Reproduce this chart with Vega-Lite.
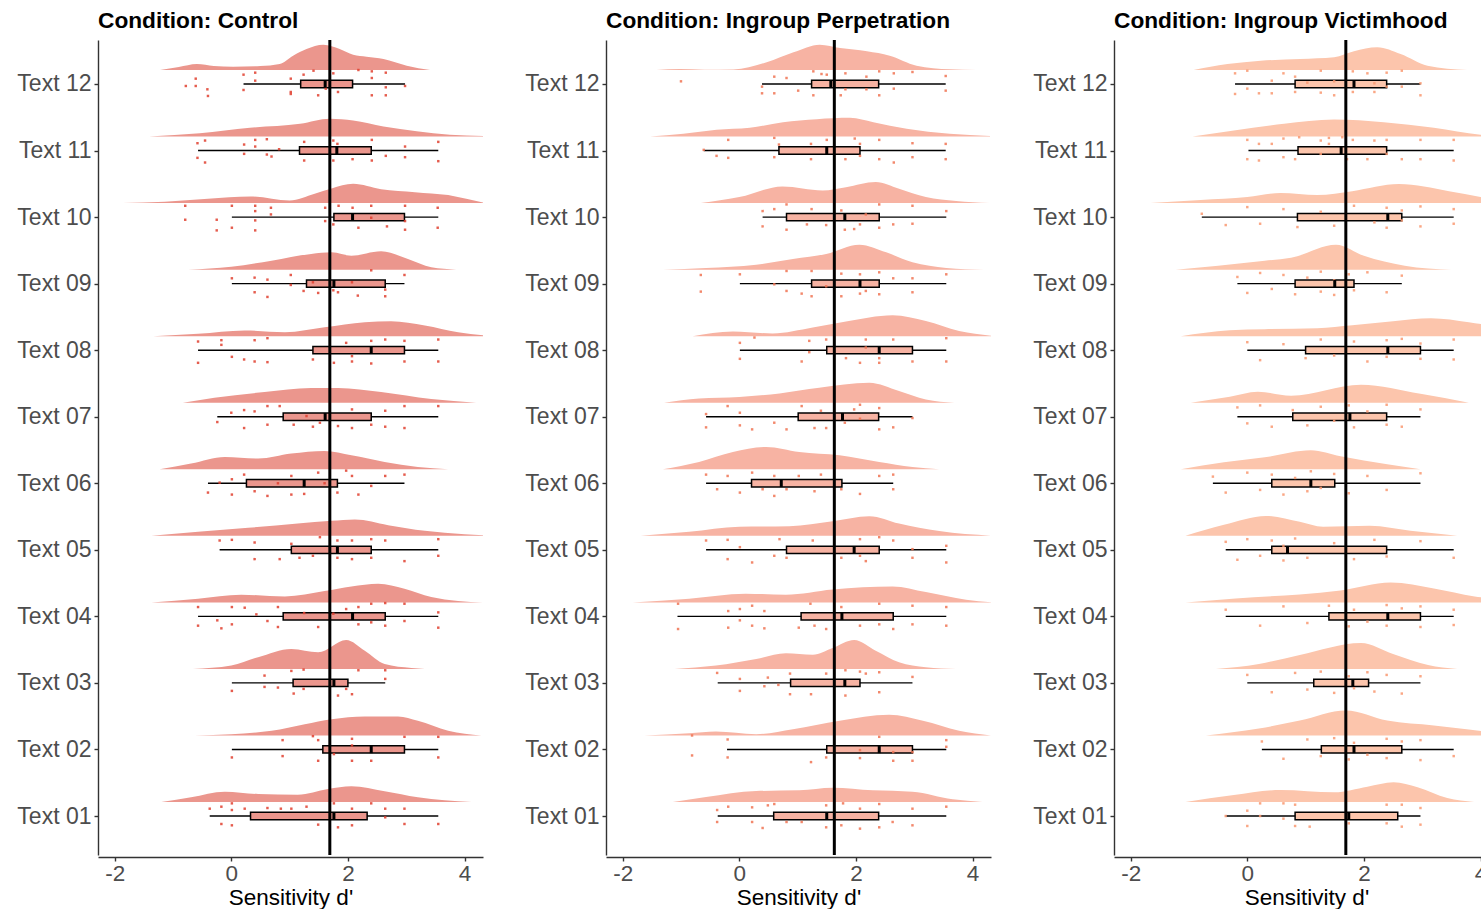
{
"$schema":"https://vega.github.io/schema/vega-lite/v6.json",
"padding":{"left":16,"top":10,"right":0,"bottom":0},
"data":{"values":[
{"c":"C","m":1.69},{"c":"P","m":1.63},{"c":"V","m":1.69},
{"c":"C","r":12,"lo":0.21,"q1":1.19,"md":1.61,"q3":2.08,"hi":2.98},
{"c":"C","r":11,"lo":-0.57,"q1":1.17,"md":1.81,"q3":2.40,"hi":3.55},
{"c":"C","r":10,"lo":0.01,"q1":1.76,"md":2.08,"q3":2.97,"hi":3.55},
{"c":"C","r":9,"lo":0.01,"q1":1.29,"md":1.76,"q3":2.64,"hi":2.97},
{"c":"C","r":8,"lo":-0.57,"q1":1.40,"md":2.40,"q3":2.97,"hi":3.55},
{"c":"C","r":7,"lo":-0.24,"q1":0.89,"md":1.61,"q3":2.40,"hi":3.55},
{"c":"C","r":6,"lo":-0.40,"q1":0.26,"md":1.25,"q3":1.82,"hi":2.97},
{"c":"C","r":5,"lo":-0.20,"q1":1.03,"md":1.82,"q3":2.40,"hi":3.55},
{"c":"C","r":4,"lo":-0.57,"q1":0.89,"md":2.08,"q3":2.64,"hi":3.55},
{"c":"C","r":3,"lo":0.01,"q1":1.06,"md":1.76,"q3":2.00,"hi":2.64},
{"c":"C","r":2,"lo":0.01,"q1":1.57,"md":2.40,"q3":2.97,"hi":3.55},
{"c":"C","r":1,"lo":-0.37,"q1":0.33,"md":1.76,"q3":2.33,"hi":3.55},
{"c":"P","r":12,"lo":0.39,"q1":1.24,"md":1.57,"q3":2.39,"hi":3.54},
{"c":"P","r":11,"lo":-0.61,"q1":0.68,"md":1.50,"q3":2.07,"hi":3.54},
{"c":"P","r":10,"lo":0.40,"q1":0.81,"md":1.81,"q3":2.40,"hi":3.55},
{"c":"P","r":9,"lo":0.01,"q1":1.24,"md":2.07,"q3":2.40,"hi":3.55},
{"c":"P","r":8,"lo":0.01,"q1":1.50,"md":2.40,"q3":2.97,"hi":3.55},
{"c":"P","r":7,"lo":-0.57,"q1":1.01,"md":1.77,"q3":2.39,"hi":2.97},
{"c":"P","r":6,"lo":-0.57,"q1":0.21,"md":0.72,"q3":1.76,"hi":2.64},
{"c":"P","r":5,"lo":-0.57,"q1":0.81,"md":1.97,"q3":2.40,"hi":3.55},
{"c":"P","r":4,"lo":-1.06,"q1":1.06,"md":1.76,"q3":2.64,"hi":3.55},
{"c":"P","r":3,"lo":-0.37,"q1":0.88,"md":1.81,"q3":2.07,"hi":2.97},
{"c":"P","r":2,"lo":-0.21,"q1":1.50,"md":2.40,"q3":2.97,"hi":3.55},
{"c":"P","r":1,"lo":-0.37,"q1":0.59,"md":1.50,"q3":2.39,"hi":3.55},
{"c":"V","r":12,"lo":-0.21,"q1":0.82,"md":1.83,"q3":2.39,"hi":2.97},
{"c":"V","r":11,"lo":0.02,"q1":0.87,"md":1.61,"q3":2.39,"hi":3.54},
{"c":"V","r":10,"lo":-0.78,"q1":0.86,"md":2.41,"q3":2.65,"hi":3.54},
{"c":"V","r":9,"lo":-0.17,"q1":0.82,"md":1.50,"q3":1.83,"hi":2.65},
{"c":"V","r":8,"lo":0.0,"q1":1.00,"md":2.41,"q3":2.97,"hi":3.54},
{"c":"V","r":7,"lo":-0.17,"q1":0.78,"md":1.76,"q3":2.39,"hi":2.97},
{"c":"V","r":6,"lo":-0.59,"q1":0.42,"md":1.09,"q3":1.50,"hi":2.97},
{"c":"V","r":5,"lo":-0.37,"q1":0.42,"md":0.69,"q3":2.39,"hi":3.54},
{"c":"V","r":4,"lo":-0.37,"q1":1.40,"md":2.41,"q3":2.97,"hi":3.54},
{"c":"V","r":3,"lo":0.0,"q1":1.14,"md":1.81,"q3":2.08,"hi":2.97},
{"c":"V","r":2,"lo":0.25,"q1":1.27,"md":1.83,"q3":2.65,"hi":3.54},
{"c":"V","r":1,"lo":-0.37,"q1":0.82,"md":1.74,"q3":2.58,"hi":2.97},

{"c":"C","r":12,"x":-1.22,"d":0},{"c":"C","r":12,"x":-0.9,"d":0.045},{"c":"C","r":12,"x":-0.59,"d":0.09},{"c":"C","r":12,"x":-0.3,"d":0.06},{"c":"C","r":12,"x":0.03,"d":0.05},{"c":"C","r":12,"x":0.5,"d":0.06},{"c":"C","r":12,"x":0.83,"d":0.09},{"c":"C","r":12,"x":1.06,"d":0.215},{"c":"C","r":12,"x":1.29,"d":0.316},{"c":"C","r":12,"x":1.58,"d":0.38},{"c":"C","r":12,"x":1.86,"d":0.316},{"c":"C","r":12,"x":2.09,"d":0.23},{"c":"C","r":12,"x":2.32,"d":0.2},{"c":"C","r":12,"x":2.61,"d":0.165},{"c":"C","r":12,"x":3.01,"d":0.065},{"c":"C","r":12,"x":3.41,"d":0},
{"c":"C","r":11,"x":-1.41,"d":0},{"c":"C","r":11,"x":-0.54,"d":0.05},{"c":"C","r":11,"x":0.32,"d":0.131},{"c":"C","r":11,"x":1.18,"d":0.191},{"c":"C","r":11,"x":1.69,"d":0.266},{"c":"C","r":11,"x":2.09,"d":0.24},{"c":"C","r":11,"x":2.61,"d":0.15},{"c":"C","r":11,"x":3.18,"d":0.08},{"c":"C","r":11,"x":3.75,"d":0.026},{"c":"C","r":11,"x":4.32,"d":0.008},
{"c":"C","r":10,"x":-1.86,"d":0},{"c":"C","r":10,"x":-1.14,"d":0.02},{"c":"C","r":10,"x":-0.4,"d":0.065},{"c":"C","r":10,"x":0.33,"d":0.1},{"c":"C","r":10,"x":1.0,"d":0.04},{"c":"C","r":10,"x":1.43,"d":0.14},{"c":"C","r":10,"x":1.72,"d":0.22},{"c":"C","r":10,"x":2.09,"d":0.29},{"c":"C","r":10,"x":2.57,"d":0.21},{"c":"C","r":10,"x":3.15,"d":0.165},{"c":"C","r":10,"x":3.72,"d":0.12},{"c":"C","r":10,"x":4.05,"d":0.06},{"c":"C","r":10,"x":4.32,"d":0.008},
{"c":"C","r":9,"x":-0.74,"d":0},{"c":"C","r":9,"x":0,"d":0.045},{"c":"C","r":9,"x":0.69,"d":0.135},{"c":"C","r":9,"x":1.37,"d":0.236},{"c":"C","r":9,"x":1.72,"d":0.26},{"c":"C","r":9,"x":2.06,"d":0.21},{"c":"C","r":9,"x":2.57,"d":0.275},{"c":"C","r":9,"x":3.03,"d":0.161},{"c":"C","r":9,"x":3.43,"d":0.035},{"c":"C","r":9,"x":3.86,"d":0},
{"c":"C","r":8,"x":-1.34,"d":0},{"c":"C","r":8,"x":-0.57,"d":0.036},{"c":"C","r":8,"x":0.23,"d":0.086},{"c":"C","r":8,"x":0.92,"d":0.06},{"c":"C","r":8,"x":1.6,"d":0.135},{"c":"C","r":8,"x":2.29,"d":0.21},{"c":"C","r":8,"x":2.74,"d":0.225},{"c":"C","r":8,"x":3.32,"d":0.161},{"c":"C","r":8,"x":3.89,"d":0.06},{"c":"C","r":8,"x":4.32,"d":0.015},
{"c":"C","r":7,"x":-0.83,"d":0},{"c":"C","r":7,"x":-0.29,"d":0.075},{"c":"C","r":7,"x":0.57,"d":0.161},{"c":"C","r":7,"x":1.37,"d":0.221},{"c":"C","r":7,"x":1.83,"d":0.221},{"c":"C","r":7,"x":2.57,"d":0.161},{"c":"C","r":7,"x":3.43,"d":0.056},{"c":"C","r":7,"x":4.2,"d":0},
{"c":"C","r":6,"x":-1.23,"d":0},{"c":"C","r":6,"x":-0.69,"d":0.086},{"c":"C","r":6,"x":-0.11,"d":0.185},{"c":"C","r":6,"x":0.46,"d":0.161},{"c":"C","r":6,"x":1.03,"d":0.236},{"c":"C","r":6,"x":1.6,"d":0.275},{"c":"C","r":6,"x":2.06,"d":0.21},{"c":"C","r":6,"x":2.63,"d":0.11},{"c":"C","r":6,"x":3.2,"d":0.035},{"c":"C","r":6,"x":3.72,"d":0},
{"c":"C","r":5,"x":-1.37,"d":0},{"c":"C","r":5,"x":-0.57,"d":0.06},{"c":"C","r":5,"x":0.29,"d":0.12},{"c":"C","r":5,"x":1.14,"d":0.185},{"c":"C","r":5,"x":1.72,"d":0.225},{"c":"C","r":5,"x":2.12,"d":0.245},{"c":"C","r":5,"x":2.69,"d":0.161},{"c":"C","r":5,"x":3.32,"d":0.075},{"c":"C","r":5,"x":4.0,"d":0.023},{"c":"C","r":5,"x":4.32,"d":0.008},
{"c":"C","r":4,"x":-1.37,"d":0},{"c":"C","r":4,"x":-0.57,"d":0.056},{"c":"C","r":4,"x":0.17,"d":0.116},{"c":"C","r":4,"x":0.92,"d":0.09},{"c":"C","r":4,"x":1.6,"d":0.17},{"c":"C","r":4,"x":2.06,"d":0.24},{"c":"C","r":4,"x":2.52,"d":0.281},{"c":"C","r":4,"x":2.97,"d":0.206},{"c":"C","r":4,"x":3.43,"d":0.08},{"c":"C","r":4,"x":3.89,"d":0.02},{"c":"C","r":4,"x":4.32,"d":0},
{"c":"C","r":3,"x":-0.66,"d":0},{"c":"C","r":3,"x":0,"d":0.05},{"c":"C","r":3,"x":0.46,"d":0.176},{"c":"C","r":3,"x":1.03,"d":0.3},{"c":"C","r":3,"x":1.49,"d":0.251},{"c":"C","r":3,"x":1.97,"d":0.436},{"c":"C","r":3,"x":2.29,"d":0.275},{"c":"C","r":3,"x":2.63,"d":0.075},{"c":"C","r":3,"x":3.09,"d":0.015},{"c":"C","r":3,"x":3.32,"d":0},
{"c":"C","r":2,"x":-0.63,"d":0},{"c":"C","r":2,"x":0,"d":0.02},{"c":"C","r":2,"x":0.69,"d":0.071},{"c":"C","r":2,"x":1.26,"d":0.17},{"c":"C","r":2,"x":1.72,"d":0.245},{"c":"C","r":2,"x":2.29,"d":0.286},{"c":"C","r":2,"x":2.86,"d":0.286},{"c":"C","r":2,"x":3.2,"d":0.221},{"c":"C","r":2,"x":3.72,"d":0.071},{"c":"C","r":2,"x":4.29,"d":0},
{"c":"C","r":1,"x":-1.2,"d":0},{"c":"C","r":1,"x":-0.69,"d":0.071},{"c":"C","r":1,"x":-0.11,"d":0.155},{"c":"C","r":1,"x":0.46,"d":0.12},{"c":"C","r":1,"x":1.14,"d":0.11},{"c":"C","r":1,"x":1.66,"d":0.195},{"c":"C","r":1,"x":2.06,"d":0.236},{"c":"C","r":1,"x":2.63,"d":0.161},{"c":"C","r":1,"x":3.2,"d":0.071},{"c":"C","r":1,"x":4.12,"d":0},
{"c":"P","r":12,"x":-1.42,"d":0},{"c":"P","r":12,"x":-1.02,"d":0.015},{"c":"P","r":12,"x":-0.6,"d":0.005},{"c":"P","r":12,"x":-0.1,"d":0.008},{"c":"P","r":12,"x":0.47,"d":0.116},{"c":"P","r":12,"x":0.93,"d":0.266},{"c":"P","r":12,"x":1.38,"d":0.38},{"c":"P","r":12,"x":1.73,"d":0.33},{"c":"P","r":12,"x":2.19,"d":0.281},{"c":"P","r":12,"x":2.58,"d":0.215},{"c":"P","r":12,"x":3.04,"d":0.065},{"c":"P","r":12,"x":3.61,"d":0.01},{"c":"P","r":12,"x":4.07,"d":0},
{"c":"P","r":11,"x":-1.53,"d":0},{"c":"P","r":11,"x":-0.96,"d":0.041},{"c":"P","r":11,"x":-0.39,"d":0.101},{"c":"P","r":11,"x":0.18,"d":0.131},{"c":"P","r":11,"x":0.75,"d":0.215},{"c":"P","r":11,"x":1.33,"d":0.26},{"c":"P","r":11,"x":1.9,"d":0.281},{"c":"P","r":11,"x":2.3,"d":0.215},{"c":"P","r":11,"x":2.87,"d":0.116},{"c":"P","r":11,"x":3.61,"d":0.041},{"c":"P","r":11,"x":4.3,"d":0.008},
{"c":"P","r":10,"x":-0.66,"d":0},{"c":"P","r":10,"x":0,"d":0.09},{"c":"P","r":10,"x":0.74,"d":0.251},{"c":"P","r":10,"x":1.43,"d":0.191},{"c":"P","r":10,"x":1.83,"d":0.24},{"c":"P","r":10,"x":2.34,"d":0.316},{"c":"P","r":10,"x":2.74,"d":0.215},{"c":"P","r":10,"x":3.2,"d":0.09},{"c":"P","r":10,"x":3.72,"d":0.03},{"c":"P","r":10,"x":4.29,"d":0},
{"c":"P","r":9,"x":-1.31,"d":0},{"c":"P","r":9,"x":-0.57,"d":0.026},{"c":"P","r":9,"x":0.29,"d":0.075},{"c":"P","r":9,"x":0.92,"d":0.161},{"c":"P","r":9,"x":1.49,"d":0.236},{"c":"P","r":9,"x":2.06,"d":0.376},{"c":"P","r":9,"x":2.52,"d":0.26},{"c":"P","r":9,"x":2.97,"d":0.11},{"c":"P","r":9,"x":3.55,"d":0.026},{"c":"P","r":9,"x":4.2,"d":0},
{"c":"P","r":8,"x":-0.8,"d":0},{"c":"P","r":8,"x":-0.11,"d":0.071},{"c":"P","r":8,"x":0.57,"d":0.041},{"c":"P","r":8,"x":1.26,"d":0.131},{"c":"P","r":8,"x":1.83,"d":0.221},{"c":"P","r":8,"x":2.63,"d":0.316},{"c":"P","r":8,"x":3.2,"d":0.23},{"c":"P","r":8,"x":3.77,"d":0.08},{"c":"P","r":8,"x":4.32,"d":0.008},
{"c":"P","r":7,"x":-1.29,"d":0},{"c":"P","r":7,"x":-0.69,"d":0.065},{"c":"P","r":7,"x":0,"d":0.086},{"c":"P","r":7,"x":0.69,"d":0.14},{"c":"P","r":7,"x":1.37,"d":0.225},{"c":"P","r":7,"x":2.23,"d":0.3},{"c":"P","r":7,"x":2.74,"d":0.176},{"c":"P","r":7,"x":3.2,"d":0.05},{"c":"P","r":7,"x":3.69,"d":0},
{"c":"P","r":6,"x":-1.31,"d":0},{"c":"P","r":6,"x":-0.69,"d":0.11},{"c":"P","r":6,"x":-0.11,"d":0.26},{"c":"P","r":6,"x":0.46,"d":0.335},{"c":"P","r":6,"x":1.03,"d":0.26},{"c":"P","r":6,"x":1.72,"d":0.21},{"c":"P","r":6,"x":2.4,"d":0.11},{"c":"P","r":6,"x":2.97,"d":0.035},{"c":"P","r":6,"x":3.43,"d":0},
{"c":"P","r":5,"x":-1.69,"d":0},{"c":"P","r":5,"x":-0.86,"d":0.06},{"c":"P","r":5,"x":0,"d":0.135},{"c":"P","r":5,"x":0.86,"d":0.146},{"c":"P","r":5,"x":1.6,"d":0.221},{"c":"P","r":5,"x":2.23,"d":0.296},{"c":"P","r":5,"x":2.74,"d":0.185},{"c":"P","r":5,"x":3.43,"d":0.071},{"c":"P","r":5,"x":4.32,"d":0},
{"c":"P","r":4,"x":-1.83,"d":0},{"c":"P","r":4,"x":-0.86,"d":0.056},{"c":"P","r":4,"x":0.11,"d":0.131},{"c":"P","r":4,"x":0.8,"d":0.116},{"c":"P","r":4,"x":1.6,"d":0.195},{"c":"P","r":4,"x":2.63,"d":0.24},{"c":"P","r":4,"x":3.2,"d":0.155},{"c":"P","r":4,"x":3.89,"d":0.041},{"c":"P","r":4,"x":4.32,"d":0},
{"c":"P","r":3,"x":-1.11,"d":0},{"c":"P","r":3,"x":-0.4,"d":0.05},{"c":"P","r":3,"x":0.29,"d":0.15},{"c":"P","r":3,"x":0.8,"d":0.236},{"c":"P","r":3,"x":1.26,"d":0.215},{"c":"P","r":3,"x":1.6,"d":0.316},{"c":"P","r":3,"x":1.97,"d":0.436},{"c":"P","r":3,"x":2.34,"d":0.275},{"c":"P","r":3,"x":2.74,"d":0.1},{"c":"P","r":3,"x":3.2,"d":0.026},{"c":"P","r":3,"x":3.72,"d":0},
{"c":"P","r":2,"x":-1.63,"d":0},{"c":"P","r":2,"x":-0.86,"d":0.035},{"c":"P","r":2,"x":-0.4,"d":0.06},{"c":"P","r":2,"x":0.29,"d":0.02},{"c":"P","r":2,"x":0.92,"d":0.095},{"c":"P","r":2,"x":1.72,"d":0.221},{"c":"P","r":2,"x":2.57,"d":0.311},{"c":"P","r":2,"x":3.15,"d":0.221},{"c":"P","r":2,"x":3.77,"d":0.071},{"c":"P","r":2,"x":4.32,"d":0},
{"c":"P","r":1,"x":-1.14,"d":0},{"c":"P","r":1,"x":-0.57,"d":0.075},{"c":"P","r":1,"x":0.29,"d":0.165},{"c":"P","r":1,"x":1.03,"d":0.176},{"c":"P","r":1,"x":1.6,"d":0.215},{"c":"P","r":1,"x":2.29,"d":0.176},{"c":"P","r":1,"x":2.97,"d":0.155},{"c":"P","r":1,"x":3.66,"d":0.041},{"c":"P","r":1,"x":4.17,"d":0},
{"c":"V","r":12,"x":-0.92,"d":0},{"c":"V","r":12,"x":-0.34,"d":0.09},{"c":"V","r":12,"x":0.23,"d":0.14},{"c":"V","r":12,"x":0.91,"d":0.165},{"c":"V","r":12,"x":1.49,"d":0.191},{"c":"V","r":12,"x":1.83,"d":0.281},{"c":"V","r":12,"x":2.23,"d":0.341},{"c":"V","r":12,"x":2.63,"d":0.24},{"c":"V","r":12,"x":3.09,"d":0.065},{"c":"V","r":12,"x":3.77,"d":0},
{"c":"V","r":11,"x":-0.94,"d":0},{"c":"V","r":11,"x":-0.23,"d":0.09},{"c":"V","r":11,"x":0.63,"d":0.191},{"c":"V","r":11,"x":1.49,"d":0.255},{"c":"V","r":11,"x":2.34,"d":0.215},{"c":"V","r":11,"x":3.2,"d":0.131},{"c":"V","r":11,"x":4.0,"d":0.026},{"c":"V","r":11,"x":4.32,"d":0.008},
{"c":"V","r":10,"x":-1.66,"d":0},{"c":"V","r":10,"x":-0.8,"d":0.045},{"c":"V","r":10,"x":0,"d":0.09},{"c":"V","r":10,"x":0.57,"d":0.15},{"c":"V","r":10,"x":1.2,"d":0.12},{"c":"V","r":10,"x":1.8,"d":0.18},{"c":"V","r":10,"x":2.6,"d":0.286},{"c":"V","r":10,"x":3.46,"d":0.18},{"c":"V","r":10,"x":4.0,"d":0.09},{"c":"V","r":10,"x":4.32,"d":0.03},
{"c":"V","r":9,"x":-1.23,"d":0},{"c":"V","r":9,"x":-0.5,"d":0.06},{"c":"V","r":9,"x":0.3,"d":0.135},{"c":"V","r":9,"x":0.75,"d":0.18},{"c":"V","r":9,"x":1.52,"d":0.376},{"c":"V","r":9,"x":2.0,"d":0.21},{"c":"V","r":9,"x":2.7,"d":0.06},{"c":"V","r":9,"x":3.5,"d":0},
{"c":"V","r":8,"x":-1.14,"d":0},{"c":"V","r":8,"x":-0.3,"d":0.09},{"c":"V","r":8,"x":0.3,"d":0.105},{"c":"V","r":8,"x":1.2,"d":0.12},{"c":"V","r":8,"x":1.8,"d":0.165},{"c":"V","r":8,"x":2.5,"d":0.225},{"c":"V","r":8,"x":3.15,"d":0.27},{"c":"V","r":8,"x":3.8,"d":0.21},{"c":"V","r":8,"x":4.32,"d":0.135},
{"c":"V","r":7,"x":-0.97,"d":0},{"c":"V","r":7,"x":-0.3,"d":0.09},{"c":"V","r":7,"x":0.18,"d":0.165},{"c":"V","r":7,"x":0.75,"d":0.105},{"c":"V","r":7,"x":1.95,"d":0.27},{"c":"V","r":7,"x":2.97,"d":0.135},{"c":"V","r":7,"x":3.8,"d":0},
{"c":"V","r":6,"x":-1.14,"d":0},{"c":"V","r":6,"x":-0.4,"d":0.105},{"c":"V","r":6,"x":0.3,"d":0.18},{"c":"V","r":6,"x":1.09,"d":0.285},{"c":"V","r":6,"x":1.6,"d":0.195},{"c":"V","r":6,"x":2.4,"d":0.075},{"c":"V","r":6,"x":2.97,"d":0},
{"c":"V","r":5,"x":-1.06,"d":0},{"c":"V","r":5,"x":-0.4,"d":0.165},{"c":"V","r":5,"x":0.32,"d":0.3},{"c":"V","r":5,"x":0.9,"d":0.21},{"c":"V","r":5,"x":1.3,"d":0.135},{"c":"V","r":5,"x":2.1,"d":0.15},{"c":"V","r":5,"x":2.8,"d":0.075},{"c":"V","r":5,"x":3.6,"d":0},
{"c":"V","r":4,"x":-1.06,"d":0},{"c":"V","r":4,"x":-0.2,"d":0.06},{"c":"V","r":4,"x":0.9,"d":0.12},{"c":"V","r":4,"x":1.6,"d":0.18},{"c":"V","r":4,"x":2.46,"d":0.3},{"c":"V","r":4,"x":3.2,"d":0.21},{"c":"V","r":4,"x":3.9,"d":0.09},{"c":"V","r":4,"x":4.32,"d":0.045},
{"c":"V","r":3,"x":-0.54,"d":0},{"c":"V","r":3,"x":0.2,"d":0.075},{"c":"V","r":3,"x":0.9,"d":0.21},{"c":"V","r":3,"x":1.95,"d":0.39},{"c":"V","r":3,"x":2.5,"d":0.225},{"c":"V","r":3,"x":3.1,"d":0.06},{"c":"V","r":3,"x":3.6,"d":0},
{"c":"V","r":2,"x":-0.71,"d":0},{"c":"V","r":2,"x":0.2,"d":0.105},{"c":"V","r":2,"x":0.9,"d":0.225},{"c":"V","r":2,"x":1.69,"d":0.376},{"c":"V","r":2,"x":2.4,"d":0.225},{"c":"V","r":2,"x":3.2,"d":0.15},{"c":"V","r":2,"x":3.8,"d":0.09},{"c":"V","r":2,"x":4.32,"d":0.03},
{"c":"V","r":1,"x":-1.06,"d":0},{"c":"V","r":1,"x":-0.23,"d":0.105},{"c":"V","r":1,"x":0.57,"d":0.18},{"c":"V","r":1,"x":1.49,"d":0.146},{"c":"V","r":1,"x":2.06,"d":0.23},{"c":"V","r":1,"x":2.51,"d":0.296},{"c":"V","r":1,"x":2.92,"d":0.221},{"c":"V","r":1,"x":3.43,"d":0.06},{"c":"V","r":1,"x":3.89,"d":0},

{"c":"C","r":12,"x":-0.78,"j":-0.03},{"c":"C","r":12,"x":-0.61,"j":0.08},{"c":"C","r":12,"x":-0.61,"j":-0.03},{"c":"C","r":12,"x":-0.41,"j":-0.08},{"c":"C","r":12,"x":-0.40,"j":-0.18},{"c":"C","r":12,"x":0.21,"j":0.14},{"c":"C","r":12,"x":0.21,"j":-0.09},{"c":"C","r":12,"x":0.41,"j":0.17},{"c":"C","r":12,"x":0.41,"j":0.05},{"c":"C","r":12,"x":1.02,"j":0.08},{"c":"C","r":12,"x":1.02,"j":-0.12},{"c":"C","r":12,"x":1.02,"j":-0.15},{"c":"C","r":12,"x":1.24,"j":0.14},{"c":"C","r":12,"x":1.41,"j":0.2},{"c":"C","r":12,"x":1.49,"j":-0.17},{"c":"C","r":12,"x":1.62,"j":-0.07},{"c":"C","r":12,"x":1.75,"j":0.16},{"c":"C","r":12,"x":1.83,"j":-0.12},{"c":"C","r":12,"x":2.18,"j":0.21},{"c":"C","r":12,"x":2.41,"j":0.19},{"c":"C","r":12,"x":2.41,"j":0.09},{"c":"C","r":12,"x":2.41,"j":-0.17},{"c":"C","r":12,"x":2.65,"j":0.17},{"c":"C","r":12,"x":2.65,"j":-0.05},{"c":"C","r":12,"x":2.65,"j":-0.17},{"c":"C","r":12,"x":2.98,"j":-0.03},
{"c":"C","r":11,"x":-0.58,"j":0.11},{"c":"C","r":11,"x":-0.58,"j":-0.11},{"c":"C","r":11,"x":-0.45,"j":0.15},{"c":"C","r":11,"x":-0.45,"j":-0.18},{"c":"C","r":11,"x":0.22,"j":0.09},{"c":"C","r":11,"x":0.22,"j":-0.05},{"c":"C","r":11,"x":0.41,"j":0.16},{"c":"C","r":11,"x":0.41,"j":0.06},{"c":"C","r":11,"x":0.61,"j":0.17},{"c":"C","r":11,"x":0.61,"j":-0.06},{"c":"C","r":11,"x":0.69,"j":-0.09},{"c":"C","r":11,"x":0.82,"j":0.02},{"c":"C","r":11,"x":1.25,"j":0.13},{"c":"C","r":11,"x":1.25,"j":-0.15},{"c":"C","r":11,"x":1.75,"j":0.15},{"c":"C","r":11,"x":1.75,"j":-0.15},{"c":"C","r":11,"x":1.82,"j":0.1},{"c":"C","r":11,"x":2.08,"j":-0.13},{"c":"C","r":11,"x":2.41,"j":0.16},{"c":"C","r":11,"x":2.41,"j":-0.15},{"c":"C","r":11,"x":2.65,"j":-0.08},{"c":"C","r":11,"x":2.98,"j":0.06},{"c":"C","r":11,"x":2.98,"j":-0.1},{"c":"C","r":11,"x":3.55,"j":0.13},{"c":"C","r":11,"x":3.55,"j":-0.16},
{"c":"C","r":10,"x":-0.79,"j":0.17},{"c":"C","r":10,"x":-0.79,"j":-0.04},{"c":"C","r":10,"x":-0.25,"j":-0.04},{"c":"C","r":10,"x":-0.25,"j":-0.2},{"c":"C","r":10,"x":0.01,"j":0.17},{"c":"C","r":10,"x":0.01,"j":-0.16},{"c":"C","r":10,"x":0.41,"j":0.17},{"c":"C","r":10,"x":0.41,"j":0.09},{"c":"C","r":10,"x":0.41,"j":-0.05},{"c":"C","r":10,"x":0.41,"j":-0.2},{"c":"C","r":10,"x":0.68,"j":0.14},{"c":"C","r":10,"x":0.68,"j":0.04},{"c":"C","r":10,"x":1.61,"j":0.14},{"c":"C","r":10,"x":1.61,"j":-0.06},{"c":"C","r":10,"x":1.75,"j":-0.11},{"c":"C","r":10,"x":1.84,"j":0.17},{"c":"C","r":10,"x":2.08,"j":0.14},{"c":"C","r":10,"x":2.18,"j":-0.16},{"c":"C","r":10,"x":2.40,"j":0.17},{"c":"C","r":10,"x":2.40,"j":-0.01},{"c":"C","r":10,"x":2.67,"j":-0.14},{"c":"C","r":10,"x":2.98,"j":0.17},{"c":"C","r":10,"x":2.98,"j":-0.06},{"c":"C","r":10,"x":2.98,"j":-0.19},{"c":"C","r":10,"x":3.54,"j":0.14},{"c":"C","r":10,"x":3.54,"j":-0.16},
{"c":"C","r":9,"x":0.01,"j":0.08},{"c":"C","r":9,"x":0.4,"j":0.09},{"c":"C","r":9,"x":0.4,"j":-0.13},{"c":"C","r":9,"x":0.62,"j":0.06},{"c":"C","r":9,"x":0.62,"j":-0.2},{"c":"C","r":9,"x":1.02,"j":0.13},{"c":"C","r":9,"x":1.02,"j":-0.02},{"c":"C","r":9,"x":1.24,"j":-0.11},{"c":"C","r":9,"x":1.4,"j":0.02},{"c":"C","r":9,"x":1.49,"j":-0.14},{"c":"C","r":9,"x":1.75,"j":-0.1},{"c":"C","r":9,"x":1.83,"j":-0.13},{"c":"C","r":9,"x":2.07,"j":0.02},{"c":"C","r":9,"x":2.17,"j":-0.18},{"c":"C","r":9,"x":2.4,"j":0.2},{"c":"C","r":9,"x":2.64,"j":-0.09},{"c":"C","r":9,"x":2.64,"j":-0.19},{"c":"C","r":9,"x":2.97,"j":0.13},
{"c":"C","r":8,"x":-0.57,"j":0.13},{"c":"C","r":8,"x":-0.57,"j":-0.19},{"c":"C","r":8,"x":-0.17,"j":0.15},{"c":"C","r":8,"x":-0.17,"j":0.08},{"c":"C","r":8,"x":0.01,"j":-0.1},{"c":"C","r":8,"x":0.22,"j":-0.14},{"c":"C","r":8,"x":0.4,"j":0.15},{"c":"C","r":8,"x":0.4,"j":-0.17},{"c":"C","r":8,"x":0.62,"j":0.18},{"c":"C","r":8,"x":0.62,"j":-0.18},{"c":"C","r":8,"x":1.4,"j":-0.14},{"c":"C","r":8,"x":1.76,"j":-0.19},{"c":"C","r":8,"x":1.97,"j":0.11},{"c":"C","r":8,"x":2.07,"j":-0.09},{"c":"C","r":8,"x":2.07,"j":-0.17},{"c":"C","r":8,"x":2.4,"j":0.14},{"c":"C","r":8,"x":2.4,"j":-0.2},{"c":"C","r":8,"x":2.64,"j":0.16},{"c":"C","r":8,"x":2.97,"j":0.14},{"c":"C","r":8,"x":2.97,"j":-0.17},{"c":"C","r":8,"x":3.55,"j":0.16},{"c":"C","r":8,"x":3.55,"j":-0.17},
{"c":"C","r":7,"x":-0.24,"j":-0.08},{"c":"C","r":7,"x":0,"j":0.06},{"c":"C","r":7,"x":0.22,"j":0.1},{"c":"C","r":7,"x":0.22,"j":-0.17},{"c":"C","r":7,"x":0.4,"j":0.08},{"c":"C","r":7,"x":0.62,"j":-0.12},{"c":"C","r":7,"x":0.62,"j":0.16},{"c":"C","r":7,"x":0.83,"j":0.16},{"c":"C","r":7,"x":1.07,"j":-0.12},{"c":"C","r":7,"x":1.29,"j":0.01},{"c":"C","r":7,"x":1.4,"j":-0.15},{"c":"C","r":7,"x":1.52,"j":-0.09},{"c":"C","r":7,"x":1.83,"j":-0.14},{"c":"C","r":7,"x":2.07,"j":0.11},{"c":"C","r":7,"x":2.07,"j":-0.17},{"c":"C","r":7,"x":2.4,"j":-0.12},{"c":"C","r":7,"x":2.64,"j":0.09},{"c":"C","r":7,"x":2.64,"j":-0.15},{"c":"C","r":7,"x":2.97,"j":0.16},{"c":"C","r":7,"x":2.97,"j":-0.17},{"c":"C","r":7,"x":3.55,"j":0.16},
{"c":"C","r":6,"x":-0.4,"j":-0.14},{"c":"C","r":6,"x":-0.2,"j":0.01},{"c":"C","r":6,"x":0.01,"j":0.06},{"c":"C","r":6,"x":0.01,"j":-0.17},{"c":"C","r":6,"x":0.22,"j":0.13},{"c":"C","r":6,"x":0.4,"j":-0.12},{"c":"C","r":6,"x":0.62,"j":-0.19},{"c":"C","r":6,"x":0.8,"j":0},{"c":"C","r":6,"x":1.03,"j":0.11},{"c":"C","r":6,"x":1.03,"j":-0.17},{"c":"C","r":6,"x":1.25,"j":-0.16},{"c":"C","r":6,"x":1.49,"j":0.16},{"c":"C","r":6,"x":1.6,"j":0},{"c":"C","r":6,"x":1.82,"j":-0.14},{"c":"C","r":6,"x":1.97,"j":0.19},{"c":"C","r":6,"x":2.07,"j":0.11},{"c":"C","r":6,"x":2.18,"j":-0.17},{"c":"C","r":6,"x":2.4,"j":-0.04},{"c":"C","r":6,"x":2.64,"j":0.11},{"c":"C","r":6,"x":2.97,"j":0.13},
{"c":"C","r":5,"x":-0.2,"j":0.14},{"c":"C","r":5,"x":0.01,"j":0.15},{"c":"C","r":5,"x":0.4,"j":0.11},{"c":"C","r":5,"x":0.4,"j":-0.14},{"c":"C","r":5,"x":0.83,"j":-0.14},{"c":"C","r":5,"x":1.03,"j":0.09},{"c":"C","r":5,"x":1.17,"j":-0.12},{"c":"C","r":5,"x":1.4,"j":-0.09},{"c":"C","r":5,"x":1.52,"j":0.19},{"c":"C","r":5,"x":1.82,"j":0.14},{"c":"C","r":5,"x":1.82,"j":-0.12},{"c":"C","r":5,"x":2.07,"j":0.14},{"c":"C","r":5,"x":2.07,"j":-0.14},{"c":"C","r":5,"x":2.4,"j":0.16},{"c":"C","r":5,"x":2.4,"j":-0.12},{"c":"C","r":5,"x":2.64,"j":0.14},{"c":"C","r":5,"x":2.97,"j":-0.17},{"c":"C","r":5,"x":3.55,"j":0.16},{"c":"C","r":5,"x":3.55,"j":-0.09},
{"c":"C","r":4,"x":-0.57,"j":0.14},{"c":"C","r":4,"x":-0.57,"j":-0.14},{"c":"C","r":4,"x":-0.24,"j":-0.06},{"c":"C","r":4,"x":-0.17,"j":-0.18},{"c":"C","r":4,"x":0.01,"j":0.14},{"c":"C","r":4,"x":0.01,"j":-0.12},{"c":"C","r":4,"x":0.23,"j":0.13},{"c":"C","r":4,"x":0.43,"j":0.03},{"c":"C","r":4,"x":0.62,"j":-0.07},{"c":"C","r":4,"x":0.8,"j":0.14},{"c":"C","r":4,"x":0.8,"j":-0.16},{"c":"C","r":4,"x":1.25,"j":0.05},{"c":"C","r":4,"x":1.49,"j":-0.16},{"c":"C","r":4,"x":1.75,"j":0.04},{"c":"C","r":4,"x":1.97,"j":0.11},{"c":"C","r":4,"x":2.18,"j":0.14},{"c":"C","r":4,"x":2.18,"j":-0.12},{"c":"C","r":4,"x":2.4,"j":0.19},{"c":"C","r":4,"x":2.4,"j":-0.09},{"c":"C","r":4,"x":2.64,"j":0.2},{"c":"C","r":4,"x":2.64,"j":-0.14},{"c":"C","r":4,"x":2.97,"j":0.19},{"c":"C","r":4,"x":2.97,"j":-0.07},{"c":"C","r":4,"x":3.55,"j":0.06},{"c":"C","r":4,"x":3.55,"j":-0.17},
{"c":"C","r":3,"x":0.01,"j":-0.12},{"c":"C","r":3,"x":0.57,"j":0.11},{"c":"C","r":3,"x":0.57,"j":-0.06},{"c":"C","r":3,"x":0.8,"j":-0.07},{"c":"C","r":3,"x":1.03,"j":0.18},{"c":"C","r":3,"x":1.07,"j":-0.16},{"c":"C","r":3,"x":1.24,"j":0.2},{"c":"C","r":3,"x":1.24,"j":-0.09},{"c":"C","r":3,"x":1.83,"j":-0.19},{"c":"C","r":3,"x":1.97,"j":-0.09},{"c":"C","r":3,"x":2.07,"j":-0.17},{"c":"C","r":3,"x":2.18,"j":0.19},{"c":"C","r":3,"x":2.64,"j":0.19},{"c":"C","r":3,"x":2.64,"j":0.06},
{"c":"C","r":2,"x":0.01,"j":-0.12},{"c":"C","r":2,"x":0.88,"j":0.14},{"c":"C","r":2,"x":0.88,"j":-0.1},{"c":"C","r":2,"x":1.4,"j":0.2},{"c":"C","r":2,"x":1.49,"j":0.14},{"c":"C","r":2,"x":1.49,"j":-0.17},{"c":"C","r":2,"x":1.76,"j":-0.07},{"c":"C","r":2,"x":2.07,"j":0.16},{"c":"C","r":2,"x":2.07,"j":0.06},{"c":"C","r":2,"x":2.07,"j":-0.17},{"c":"C","r":2,"x":2.4,"j":-0.17},{"c":"C","r":2,"x":2.97,"j":0.19},{"c":"C","r":2,"x":3.55,"j":0.19},{"c":"C","r":2,"x":3.55,"j":-0.12},
{"c":"C","r":1,"x":-0.37,"j":0.11},{"c":"C","r":1,"x":-0.17,"j":0.14},{"c":"C","r":1,"x":-0.17,"j":-0.12},{"c":"C","r":1,"x":0.01,"j":0.19},{"c":"C","r":1,"x":0.01,"j":0.09},{"c":"C","r":1,"x":0.01,"j":-0.14},{"c":"C","r":1,"x":0.23,"j":0.11},{"c":"C","r":1,"x":0.62,"j":0.12},{"c":"C","r":1,"x":0.85,"j":0.11},{"c":"C","r":1,"x":1.03,"j":0.11},{"c":"C","r":1,"x":1.29,"j":0.14},{"c":"C","r":1,"x":1.49,"j":-0.13},{"c":"C","r":1,"x":1.76,"j":0.19},{"c":"C","r":1,"x":1.83,"j":-0.17},{"c":"C","r":1,"x":2.07,"j":0.11},{"c":"C","r":1,"x":2.07,"j":-0.14},{"c":"C","r":1,"x":2.4,"j":0.19},{"c":"C","r":1,"x":2.64,"j":0.11},{"c":"C","r":1,"x":2.64,"j":-0.02},{"c":"C","r":1,"x":2.97,"j":0.11},{"c":"C","r":1,"x":2.97,"j":-0.12},{"c":"C","r":1,"x":3.55,"j":-0.12},
{"c":"P","r":12,"x":-1.0,"j":0.04},{"c":"P","r":12,"x":0.39,"j":-0.04},{"c":"P","r":12,"x":0.39,"j":-0.14},{"c":"P","r":12,"x":0.6,"j":0.11},{"c":"P","r":12,"x":0.6,"j":-0.14},{"c":"P","r":12,"x":0.81,"j":0.09},{"c":"P","r":12,"x":1.01,"j":-0.1},{"c":"P","r":12,"x":1.27,"j":0.19},{"c":"P","r":12,"x":1.27,"j":-0.17},{"c":"P","r":12,"x":1.41,"j":0.15},{"c":"P","r":12,"x":1.5,"j":0.14},{"c":"P","r":12,"x":1.74,"j":-0.17},{"c":"P","r":12,"x":1.82,"j":0.16},{"c":"P","r":12,"x":1.82,"j":-0.08},{"c":"P","r":12,"x":2.18,"j":0.11},{"c":"P","r":12,"x":2.18,"j":-0.08},{"c":"P","r":12,"x":2.4,"j":0.19},{"c":"P","r":12,"x":2.4,"j":-0.17},{"c":"P","r":12,"x":2.65,"j":0.16},{"c":"P","r":12,"x":2.65,"j":-0.07},{"c":"P","r":12,"x":2.97,"j":0.18},{"c":"P","r":12,"x":3.54,"j":0.12},{"c":"P","r":12,"x":3.54,"j":-0.1},
{"c":"P","r":11,"x":-0.61,"j":0.01},{"c":"P","r":11,"x":-0.39,"j":-0.08},{"c":"P","r":11,"x":-0.19,"j":0.16},{"c":"P","r":11,"x":-0.19,"j":-0.11},{"c":"P","r":11,"x":0.6,"j":0.19},{"c":"P","r":11,"x":0.6,"j":-0.1},{"c":"P","r":11,"x":0.68,"j":0.09},{"c":"P","r":11,"x":1.23,"j":0.1},{"c":"P","r":11,"x":1.23,"j":-0.13},{"c":"P","r":11,"x":1.5,"j":0.16},{"c":"P","r":11,"x":1.5,"j":0},{"c":"P","r":11,"x":1.82,"j":-0.13},{"c":"P","r":11,"x":1.98,"j":0.18},{"c":"P","r":11,"x":2.07,"j":0.1},{"c":"P","r":11,"x":2.07,"j":-0.08},{"c":"P","r":11,"x":2.4,"j":0.16},{"c":"P","r":11,"x":2.4,"j":-0.13},{"c":"P","r":11,"x":2.65,"j":-0.18},{"c":"P","r":11,"x":2.97,"j":0.11},{"c":"P","r":11,"x":2.97,"j":-0.1},{"c":"P","r":11,"x":3.54,"j":0.1},{"c":"P","r":11,"x":3.54,"j":-0.13},
{"c":"P","r":10,"x":0.4,"j":0.09},{"c":"P","r":10,"x":0.4,"j":-0.14},{"c":"P","r":10,"x":0.6,"j":0.12},{"c":"P","r":10,"x":0.81,"j":0.19},{"c":"P","r":10,"x":0.81,"j":-0.19},{"c":"P","r":10,"x":1.16,"j":-0.11},{"c":"P","r":10,"x":1.24,"j":0.12},{"c":"P","r":10,"x":1.49,"j":-0.12},{"c":"P","r":10,"x":1.75,"j":0.1},{"c":"P","r":10,"x":1.81,"j":-0.19},{"c":"P","r":10,"x":1.97,"j":-0.18},{"c":"P","r":10,"x":2.07,"j":-0.11},{"c":"P","r":10,"x":2.17,"j":0.04},{"c":"P","r":10,"x":2.4,"j":0.19},{"c":"P","r":10,"x":2.4,"j":-0.16},{"c":"P","r":10,"x":2.64,"j":-0.11},{"c":"P","r":10,"x":2.97,"j":0.17},{"c":"P","r":10,"x":2.97,"j":-0.1},{"c":"P","r":10,"x":3.55,"j":0.09},
{"c":"P","r":9,"x":-0.66,"j":0.13},{"c":"P","r":9,"x":-0.66,"j":-0.12},{"c":"P","r":9,"x":0.01,"j":0.14},{"c":"P","r":9,"x":0.6,"j":-0.01},{"c":"P","r":9,"x":0.81,"j":0.19},{"c":"P","r":9,"x":0.81,"j":-0.11},{"c":"P","r":9,"x":1.07,"j":-0.15},{"c":"P","r":9,"x":1.24,"j":0.19},{"c":"P","r":9,"x":1.24,"j":-0.19},{"c":"P","r":9,"x":1.49,"j":-0.04},{"c":"P","r":9,"x":1.75,"j":0.15},{"c":"P","r":9,"x":1.75,"j":-0.19},{"c":"P","r":9,"x":2.07,"j":0.14},{"c":"P","r":9,"x":2.07,"j":-0.15},{"c":"P","r":9,"x":2.17,"j":-0.11},{"c":"P","r":9,"x":2.4,"j":0.17},{"c":"P","r":9,"x":2.4,"j":-0.16},{"c":"P","r":9,"x":2.64,"j":0.08},{"c":"P","r":9,"x":2.97,"j":0.08},{"c":"P","r":9,"x":2.97,"j":-0.13},{"c":"P","r":9,"x":3.55,"j":0.14},
{"c":"P","r":8,"x":0.01,"j":0.11},{"c":"P","r":8,"x":0.01,"j":-0.13},{"c":"P","r":8,"x":0.26,"j":0.19},{"c":"P","r":8,"x":1.07,"j":-0.17},{"c":"P","r":8,"x":1.2,"j":0.14},{"c":"P","r":8,"x":1.2,"j":-0.03},{"c":"P","r":8,"x":1.49,"j":0.16},{"c":"P","r":8,"x":1.83,"j":-0.12},{"c":"P","r":8,"x":2.07,"j":-0.19},{"c":"P","r":8,"x":2.17,"j":0.16},{"c":"P","r":8,"x":2.17,"j":0.04},{"c":"P","r":8,"x":2.4,"j":-0.12},{"c":"P","r":8,"x":2.4,"j":-0.19},{"c":"P","r":8,"x":2.64,"j":0.16},{"c":"P","r":8,"x":2.97,"j":-0.17},{"c":"P","r":8,"x":3.55,"j":0.18},{"c":"P","r":8,"x":3.55,"j":-0.17},
{"c":"P","r":7,"x":-0.57,"j":0.04},{"c":"P","r":7,"x":-0.57,"j":-0.16},{"c":"P","r":7,"x":-0.2,"j":0.16},{"c":"P","r":7,"x":0.01,"j":0.06},{"c":"P","r":7,"x":0.01,"j":-0.13},{"c":"P","r":7,"x":0.22,"j":-0.19},{"c":"P","r":7,"x":0.6,"j":-0.09},{"c":"P","r":7,"x":0.81,"j":-0.19},{"c":"P","r":7,"x":1.07,"j":0.16},{"c":"P","r":7,"x":1.29,"j":-0.17},{"c":"P","r":7,"x":1.4,"j":0.09},{"c":"P","r":7,"x":1.49,"j":-0.17},{"c":"P","r":7,"x":1.81,"j":-0.09},{"c":"P","r":7,"x":1.97,"j":0.11},{"c":"P","r":7,"x":2.07,"j":0.18},{"c":"P","r":7,"x":2.07,"j":-0.03},{"c":"P","r":7,"x":2.4,"j":0.13},{"c":"P","r":7,"x":2.4,"j":-0.19},{"c":"P","r":7,"x":2.64,"j":-0.16},{"c":"P","r":7,"x":2.97,"j":-0.02},
{"c":"P","r":6,"x":-0.57,"j":0.13},{"c":"P","r":6,"x":-0.38,"j":-0.09},{"c":"P","r":6,"x":-0.2,"j":0.11},{"c":"P","r":6,"x":0.01,"j":-0.14},{"c":"P","r":6,"x":0.22,"j":0.16},{"c":"P","r":6,"x":0.4,"j":-0.09},{"c":"P","r":6,"x":0.6,"j":0.11},{"c":"P","r":6,"x":0.6,"j":-0.19},{"c":"P","r":6,"x":0.81,"j":-0.09},{"c":"P","r":6,"x":1.02,"j":0.11},{"c":"P","r":6,"x":1.29,"j":-0.12},{"c":"P","r":6,"x":1.4,"j":0.13},{"c":"P","r":6,"x":1.75,"j":-0.09},{"c":"P","r":6,"x":2.07,"j":-0.16},{"c":"P","r":6,"x":2.4,"j":0.11},{"c":"P","r":6,"x":2.64,"j":0.13},{"c":"P","r":6,"x":2.64,"j":-0.09},
{"c":"P","r":5,"x":-0.57,"j":0.14},{"c":"P","r":5,"x":-0.2,"j":0.15},{"c":"P","r":5,"x":-0.2,"j":-0.14},{"c":"P","r":5,"x":0.01,"j":0.04},{"c":"P","r":5,"x":0.22,"j":-0.19},{"c":"P","r":5,"x":0.6,"j":-0.09},{"c":"P","r":5,"x":0.69,"j":0.16},{"c":"P","r":5,"x":0.81,"j":-0.12},{"c":"P","r":5,"x":1.26,"j":0.14},{"c":"P","r":5,"x":1.75,"j":-0.12},{"c":"P","r":5,"x":2.07,"j":0.16},{"c":"P","r":5,"x":2.07,"j":-0.09},{"c":"P","r":5,"x":2.17,"j":-0.17},{"c":"P","r":5,"x":2.4,"j":0.19},{"c":"P","r":5,"x":2.64,"j":0.14},{"c":"P","r":5,"x":2.97,"j":0.01},{"c":"P","r":5,"x":2.97,"j":-0.12},{"c":"P","r":5,"x":3.55,"j":0.06},{"c":"P","r":5,"x":3.55,"j":-0.19},
{"c":"P","r":4,"x":-1.05,"j":0.19},{"c":"P","r":4,"x":-1.05,"j":-0.19},{"c":"P","r":4,"x":-0.19,"j":0.08},{"c":"P","r":4,"x":-0.19,"j":-0.17},{"c":"P","r":4,"x":0.01,"j":0.11},{"c":"P","r":4,"x":0.01,"j":-0.06},{"c":"P","r":4,"x":0.22,"j":0.16},{"c":"P","r":4,"x":0.22,"j":-0.14},{"c":"P","r":4,"x":0.43,"j":0.08},{"c":"P","r":4,"x":0.43,"j":-0.18},{"c":"P","r":4,"x":1.02,"j":-0.17},{"c":"P","r":4,"x":1.22,"j":0.19},{"c":"P","r":4,"x":1.29,"j":-0.14},{"c":"P","r":4,"x":1.49,"j":-0.19},{"c":"P","r":4,"x":1.75,"j":0.14},{"c":"P","r":4,"x":2.07,"j":-0.14},{"c":"P","r":4,"x":2.4,"j":0.19},{"c":"P","r":4,"x":2.4,"j":-0.12},{"c":"P","r":4,"x":2.64,"j":-0.19},{"c":"P","r":4,"x":2.97,"j":0.16},{"c":"P","r":4,"x":2.97,"j":-0.12},{"c":"P","r":4,"x":3.55,"j":0.14},{"c":"P","r":4,"x":3.55,"j":-0.14},
{"c":"P","r":3,"x":-0.38,"j":0.15},{"c":"P","r":3,"x":0.01,"j":0.06},{"c":"P","r":3,"x":0.01,"j":-0.12},{"c":"P","r":3,"x":0.49,"j":0.08},{"c":"P","r":3,"x":0.43,"j":-0.05},{"c":"P","r":3,"x":0.67,"j":-0.03},{"c":"P","r":3,"x":0.87,"j":0.14},{"c":"P","r":3,"x":0.87,"j":-0.17},{"c":"P","r":3,"x":1.23,"j":-0.17},{"c":"P","r":3,"x":1.49,"j":0.14},{"c":"P","r":3,"x":1.82,"j":0.19},{"c":"P","r":3,"x":1.82,"j":-0.19},{"c":"P","r":3,"x":2.07,"j":0.17},{"c":"P","r":3,"x":2.17,"j":0.14},{"c":"P","r":3,"x":2.4,"j":0.16},{"c":"P","r":3,"x":2.4,"j":-0.14},{"c":"P","r":3,"x":2.97,"j":0.09},
{"c":"P","r":2,"x":-0.81,"j":0.21},{"c":"P","r":2,"x":-0.81,"j":-0.09},{"c":"P","r":2,"x":-0.2,"j":0.15},{"c":"P","r":2,"x":-0.2,"j":-0.12},{"c":"P","r":2,"x":1.23,"j":-0.19},{"c":"P","r":2,"x":1.49,"j":-0.12},{"c":"P","r":2,"x":2.07,"j":-0.01},{"c":"P","r":2,"x":2.07,"j":-0.13},{"c":"P","r":2,"x":2.4,"j":0.19},{"c":"P","r":2,"x":2.64,"j":-0.04},{"c":"P","r":2,"x":2.64,"j":-0.17},{"c":"P","r":2,"x":2.97,"j":-0.04},{"c":"P","r":2,"x":2.97,"j":-0.17},{"c":"P","r":2,"x":3.55,"j":0.14},{"c":"P","r":2,"x":3.55,"j":0.04},
{"c":"P","r":1,"x":-0.38,"j":0.09},{"c":"P","r":1,"x":-0.38,"j":-0.09},{"c":"P","r":1,"x":-0.19,"j":0.14},{"c":"P","r":1,"x":0.22,"j":0.13},{"c":"P","r":1,"x":0.22,"j":-0.09},{"c":"P","r":1,"x":0.4,"j":-0.18},{"c":"P","r":1,"x":0.49,"j":0.16},{"c":"P","r":1,"x":0.6,"j":0.18},{"c":"P","r":1,"x":0.81,"j":-0.09},{"c":"P","r":1,"x":1.07,"j":-0.09},{"c":"P","r":1,"x":1.49,"j":0.16},{"c":"P","r":1,"x":1.49,"j":-0.17},{"c":"P","r":1,"x":1.75,"j":-0.14},{"c":"P","r":1,"x":1.78,"j":0.19},{"c":"P","r":1,"x":2.07,"j":0.11},{"c":"P","r":1,"x":2.07,"j":-0.19},{"c":"P","r":1,"x":2.4,"j":0.18},{"c":"P","r":1,"x":2.4,"j":-0.17},{"c":"P","r":1,"x":2.63,"j":-0.09},{"c":"P","r":1,"x":2.97,"j":0.11},{"c":"P","r":1,"x":2.97,"j":-0.14},{"c":"P","r":1,"x":3.55,"j":0.14},
{"c":"V","r":12,"x":-0.21,"j":0.16},{"c":"V","r":12,"x":-0.21,"j":-0.15},{"c":"V","r":12,"x":0,"j":0.2},{"c":"V","r":12,"x":0,"j":-0.07},{"c":"V","r":12,"x":0.2,"j":-0.14},{"c":"V","r":12,"x":0.42,"j":0.05},{"c":"V","r":12,"x":0.42,"j":-0.14},{"c":"V","r":12,"x":0.62,"j":0.16},{"c":"V","r":12,"x":0.82,"j":0.11},{"c":"V","r":12,"x":0.82,"j":-0.12},{"c":"V","r":12,"x":1.03,"j":0.02},{"c":"V","r":12,"x":1.26,"j":0.2},{"c":"V","r":12,"x":1.26,"j":-0.13},{"c":"V","r":12,"x":1.49,"j":0.04},{"c":"V","r":12,"x":1.49,"j":-0.17},{"c":"V","r":12,"x":1.81,"j":0.19},{"c":"V","r":12,"x":1.81,"j":-0.12},{"c":"V","r":12,"x":2.06,"j":0.16},{"c":"V","r":12,"x":2.18,"j":0.01},{"c":"V","r":12,"x":2.18,"j":-0.12},{"c":"V","r":12,"x":2.39,"j":0.17},{"c":"V","r":12,"x":2.39,"j":-0.04},{"c":"V","r":12,"x":2.65,"j":0.2},{"c":"V","r":12,"x":2.65,"j":-0.04},{"c":"V","r":12,"x":2.97,"j":0.01},{"c":"V","r":12,"x":2.97,"j":-0.17},
{"c":"V","r":11,"x":0,"j":0.16},{"c":"V","r":11,"x":0,"j":-0.13},{"c":"V","r":11,"x":0.2,"j":0.1},{"c":"V","r":11,"x":0.2,"j":-0.15},{"c":"V","r":11,"x":0.42,"j":0.1},{"c":"V","r":11,"x":0.62,"j":0.18},{"c":"V","r":11,"x":0.62,"j":-0.1},{"c":"V","r":11,"x":0.82,"j":-0.13},{"c":"V","r":11,"x":0.89,"j":0.2},{"c":"V","r":11,"x":1.26,"j":0.15},{"c":"V","r":11,"x":1.26,"j":-0.05},{"c":"V","r":11,"x":1.4,"j":0.19},{"c":"V","r":11,"x":1.4,"j":0.1},{"c":"V","r":11,"x":1.63,"j":0.2},{"c":"V","r":11,"x":1.71,"j":-0.13},{"c":"V","r":11,"x":1.81,"j":0.16},{"c":"V","r":11,"x":2.06,"j":-0.13},{"c":"V","r":11,"x":2.18,"j":0.15},{"c":"V","r":11,"x":2.39,"j":0.16},{"c":"V","r":11,"x":2.39,"j":-0.05},{"c":"V","r":11,"x":2.65,"j":-0.13},{"c":"V","r":11,"x":2.97,"j":0.16},{"c":"V","r":11,"x":2.97,"j":-0.13},{"c":"V","r":11,"x":3.54,"j":0.16},{"c":"V","r":11,"x":3.54,"j":-0.15},
{"c":"V","r":10,"x":-0.78,"j":0.05},{"c":"V","r":10,"x":-0.37,"j":-0.12},{"c":"V","r":10,"x":0,"j":0.15},{"c":"V","r":10,"x":0.22,"j":-0.1},{"c":"V","r":10,"x":0.62,"j":0.12},{"c":"V","r":10,"x":0.86,"j":-0.15},{"c":"V","r":10,"x":1.26,"j":0.08},{"c":"V","r":10,"x":1.49,"j":-0.13},{"c":"V","r":10,"x":1.83,"j":0.17},{"c":"V","r":10,"x":2.18,"j":-0.08},{"c":"V","r":10,"x":2.39,"j":0.14},{"c":"V","r":10,"x":2.39,"j":-0.16},{"c":"V","r":10,"x":2.65,"j":0.1},{"c":"V","r":10,"x":2.65,"j":-0.05},{"c":"V","r":10,"x":2.97,"j":0.16},{"c":"V","r":10,"x":2.97,"j":-0.14},{"c":"V","r":10,"x":3.54,"j":0.12},{"c":"V","r":10,"x":3.54,"j":-0.1},
{"c":"V","r":9,"x":-0.17,"j":0.1},{"c":"V","r":9,"x":0,"j":-0.14},{"c":"V","r":9,"x":0.22,"j":0.16},{"c":"V","r":9,"x":0.42,"j":-0.08},{"c":"V","r":9,"x":0.62,"j":0.13},{"c":"V","r":9,"x":0.82,"j":-0.16},{"c":"V","r":9,"x":1.03,"j":0.09},{"c":"V","r":9,"x":1.26,"j":-0.12},{"c":"V","r":9,"x":1.26,"j":0.18},{"c":"V","r":9,"x":1.49,"j":0.05},{"c":"V","r":9,"x":1.49,"j":-0.17},{"c":"V","r":9,"x":1.74,"j":0.14},{"c":"V","r":9,"x":1.83,"j":-0.1},{"c":"V","r":9,"x":2.06,"j":0.17},{"c":"V","r":9,"x":2.39,"j":-0.13},{"c":"V","r":9,"x":2.65,"j":0.12},
{"c":"V","r":8,"x":0,"j":0.12},{"c":"V","r":8,"x":0.22,"j":-0.15},{"c":"V","r":8,"x":0.62,"j":0.09},{"c":"V","r":8,"x":1.0,"j":-0.12},{"c":"V","r":8,"x":1.26,"j":0.16},{"c":"V","r":8,"x":1.49,"j":-0.08},{"c":"V","r":8,"x":1.83,"j":0.13},{"c":"V","r":8,"x":2.06,"j":-0.17},{"c":"V","r":8,"x":2.39,"j":0.15},{"c":"V","r":8,"x":2.39,"j":-0.1},{"c":"V","r":8,"x":2.65,"j":0.17},{"c":"V","r":8,"x":2.97,"j":-0.13},{"c":"V","r":8,"x":2.97,"j":0.1},{"c":"V","r":8,"x":3.54,"j":0.16},{"c":"V","r":8,"x":3.54,"j":-0.14},
{"c":"V","r":7,"x":-0.17,"j":0.14},{"c":"V","r":7,"x":0,"j":-0.1},{"c":"V","r":7,"x":0.22,"j":0.17},{"c":"V","r":7,"x":0.42,"j":-0.15},{"c":"V","r":7,"x":0.78,"j":0.1},{"c":"V","r":7,"x":1.03,"j":-0.13},{"c":"V","r":7,"x":1.26,"j":0.15},{"c":"V","r":7,"x":1.49,"j":-0.06},{"c":"V","r":7,"x":1.74,"j":0.17},{"c":"V","r":7,"x":1.83,"j":-0.16},{"c":"V","r":7,"x":2.06,"j":0.08},{"c":"V","r":7,"x":2.39,"j":-0.12},{"c":"V","r":7,"x":2.39,"j":0.18},{"c":"V","r":7,"x":2.65,"j":-0.15},{"c":"V","r":7,"x":2.97,"j":0.11},
{"c":"V","r":6,"x":-0.59,"j":0.1},{"c":"V","r":6,"x":-0.37,"j":-0.14},{"c":"V","r":6,"x":0,"j":0.16},{"c":"V","r":6,"x":0.22,"j":-0.1},{"c":"V","r":6,"x":0.42,"j":0.13},{"c":"V","r":6,"x":0.62,"j":-0.17},{"c":"V","r":6,"x":0.82,"j":0.08},{"c":"V","r":6,"x":1.03,"j":-0.12},{"c":"V","r":6,"x":1.09,"j":0.18},{"c":"V","r":6,"x":1.26,"j":-0.07},{"c":"V","r":6,"x":1.49,"j":0.14},{"c":"V","r":6,"x":1.74,"j":-0.15},{"c":"V","r":6,"x":2.06,"j":0.11},{"c":"V","r":6,"x":2.39,"j":-0.1},{"c":"V","r":6,"x":2.97,"j":0.15},
{"c":"V","r":5,"x":-0.37,"j":0.12},{"c":"V","r":5,"x":-0.17,"j":-0.15},{"c":"V","r":5,"x":0,"j":0.16},{"c":"V","r":5,"x":0.22,"j":-0.09},{"c":"V","r":5,"x":0.42,"j":0.14},{"c":"V","r":5,"x":0.62,"j":-0.16},{"c":"V","r":5,"x":0.62,"j":0.06},{"c":"V","r":5,"x":0.82,"j":0.17},{"c":"V","r":5,"x":1.03,"j":-0.12},{"c":"V","r":5,"x":1.49,"j":0.1},{"c":"V","r":5,"x":1.83,"j":-0.14},{"c":"V","r":5,"x":2.18,"j":0.15},{"c":"V","r":5,"x":2.39,"j":-0.1},{"c":"V","r":5,"x":2.97,"j":0.13},{"c":"V","r":5,"x":3.54,"j":-0.12},
{"c":"V","r":4,"x":-0.37,"j":0.1},{"c":"V","r":4,"x":0.22,"j":-0.14},{"c":"V","r":4,"x":0.62,"j":0.15},{"c":"V","r":4,"x":1.03,"j":-0.1},{"c":"V","r":4,"x":1.4,"j":0.16},{"c":"V","r":4,"x":1.74,"j":-0.15},{"c":"V","r":4,"x":1.83,"j":0.1},{"c":"V","r":4,"x":2.06,"j":-0.08},{"c":"V","r":4,"x":2.39,"j":0.17},{"c":"V","r":4,"x":2.39,"j":-0.14},{"c":"V","r":4,"x":2.65,"j":0.12},{"c":"V","r":4,"x":2.97,"j":-0.16},{"c":"V","r":4,"x":2.97,"j":0.15},{"c":"V","r":4,"x":3.54,"j":0.1},{"c":"V","r":4,"x":3.54,"j":-0.13},
{"c":"V","r":3,"x":0,"j":0.12},{"c":"V","r":3,"x":0.42,"j":-0.14},{"c":"V","r":3,"x":0.82,"j":0.15},{"c":"V","r":3,"x":1.03,"j":-0.1},{"c":"V","r":3,"x":1.26,"j":0.17},{"c":"V","r":3,"x":1.49,"j":-0.15},{"c":"V","r":3,"x":1.74,"j":0.1},{"c":"V","r":3,"x":1.83,"j":-0.08},{"c":"V","r":3,"x":2.06,"j":0.16},{"c":"V","r":3,"x":2.18,"j":-0.13},{"c":"V","r":3,"x":2.39,"j":0.12},{"c":"V","r":3,"x":2.65,"j":-0.16},{"c":"V","r":3,"x":2.97,"j":0.1},
{"c":"V","r":2,"x":0.25,"j":0.12},{"c":"V","r":2,"x":0.62,"j":-0.14},{"c":"V","r":2,"x":1.03,"j":0.15},{"c":"V","r":2,"x":1.26,"j":-0.1},{"c":"V","r":2,"x":1.49,"j":0.17},{"c":"V","r":2,"x":1.74,"j":-0.15},{"c":"V","r":2,"x":1.83,"j":0.1},{"c":"V","r":2,"x":2.06,"j":-0.08},{"c":"V","r":2,"x":2.39,"j":0.16},{"c":"V","r":2,"x":2.39,"j":-0.13},{"c":"V","r":2,"x":2.65,"j":0.12},{"c":"V","r":2,"x":2.97,"j":-0.16},{"c":"V","r":2,"x":2.97,"j":0.14},{"c":"V","r":2,"x":3.54,"j":-0.1},
{"c":"V","r":1,"x":-0.37,"j":0},{"c":"V","r":1,"x":0,"j":0.08},{"c":"V","r":1,"x":0,"j":-0.15},{"c":"V","r":1,"x":0.22,"j":0.19},{"c":"V","r":1,"x":0.22,"j":0},{"c":"V","r":1,"x":0.62,"j":0.19},{"c":"V","r":1,"x":0.62,"j":-0.04},{"c":"V","r":1,"x":0.82,"j":0.17},{"c":"V","r":1,"x":0.82,"j":-0.15},{"c":"V","r":1,"x":1.07,"j":-0.16},{"c":"V","r":1,"x":1.74,"j":-0.11},{"c":"V","r":1,"x":2.39,"j":0.17},{"c":"V","r":1,"x":2.39,"j":-0.11},{"c":"V","r":1,"x":2.65,"j":0.17},{"c":"V","r":1,"x":2.65,"j":-0.16},{"c":"V","r":1,"x":2.97,"j":0.12},{"c":"V","r":1,"x":2.97,"j":-0.13}
]},
"facet":{"column":{"field":"c","type":"nominal","sort":["C","P","V"],"title":null,
  "header":{"labelExpr":"datum.value == 'C' ? 'Condition: Control' : datum.value == 'P' ? 'Condition: Ingroup Perpetration' : 'Condition: Ingroup Victimhood'","labelAnchor":"start","labelFontSize":22.7,"labelFontWeight":"bold","labelColor":"#000000","labelFont":"Liberation Sans","labelPadding":5}}},
"spacing":{"column":41},
"resolve":{"axis":{"y":"independent"}},
"spec":{
 "width":385,"height":815,
 "layer":[
  {"transform":[{"filter":"isValid(datum.d)"},{"calculate":"datum.r + 0.21","as":"yb"},{"calculate":"datum.r + 0.21 + datum.d","as":"yt"}],
   "mark":{"type":"area","interpolate":"monotone","clip":true},
   "encoding":{
    "x":{"field":"x","type":"quantitative","scale":{"domain":[-2.286,4.317],"nice":false,"zero":false},"title":"Sensitivity d'","axis":{"values":[-2,0,2,4],"labelPadding":1,"titlePadding":2,"labelExpr":"'' + datum.value"}},
    "y":{"field":"yt","type":"quantitative","scale":{"domain":[0.414,12.661],"nice":false,"zero":false},"title":null,"axis":{"values":[1,2,3,4,5,6,7,8,9,10,11,12],"labelFontSize":23,"labelExpr":"'Text ' + (datum.value < 10 ? '0' : '') + datum.value"}},
    "y2":{"field":"yb"},
    "detail":{"field":"r"},
    "fill":{"field":"c","type":"nominal","scale":{"domain":["C","P","V"],"range":["#EB968D","#F7B3A3","#FCC5AC"]},"legend":null}
   }},
  {"transform":[{"filter":"isValid(datum.md)"}],
   "mark":{"type":"rule","color":"#000000","strokeWidth":1.4},
   "encoding":{
    "x":{"field":"lo","type":"quantitative","scale":{"domain":[-2.286,4.317],"nice":false,"zero":false},"title":"Sensitivity d'"},
    "x2":{"field":"hi"},
    "y":{"field":"r","type":"quantitative","scale":{"domain":[0.414,12.661],"nice":false,"zero":false},"title":null}
   }},
  {"transform":[{"filter":"isValid(datum.md)"},{"calculate":"datum.r - 0.055","as":"y0"},{"calculate":"datum.r + 0.055","as":"y1"}],
   "mark":{"type":"rect","stroke":"#000000","strokeWidth":1.5},
   "encoding":{
    "x":{"field":"q1","type":"quantitative","scale":{"domain":[-2.286,4.317],"nice":false,"zero":false},"title":"Sensitivity d'"},
    "x2":{"field":"q3"},
    "y":{"field":"y0","type":"quantitative","scale":{"domain":[0.414,12.661],"nice":false,"zero":false},"title":null},
    "y2":{"field":"y1"},
    "fill":{"field":"c","type":"nominal","scale":{"domain":["C","P","V"],"range":["#EB968D","#F7B3A3","#FCC5AC"]},"legend":null}
   }},
  {"transform":[{"filter":"isValid(datum.j)"},{"calculate":"datum.r + datum.j","as":"yp"}],
   "mark":{"type":"square","size":6,"opacity":0.85},
   "encoding":{
    "x":{"field":"x","type":"quantitative","scale":{"domain":[-2.286,4.317],"nice":false,"zero":false},"title":"Sensitivity d'"},
    "y":{"field":"yp","type":"quantitative","scale":{"domain":[0.414,12.661],"nice":false,"zero":false},"title":null},
    "color":{"field":"c","type":"nominal","scale":{"domain":["C","P","V"],"range":["#E0402F","#F07352","#F99870"]},"legend":null}
   }},
  {"transform":[{"filter":"isValid(datum.md)"},{"calculate":"datum.r - 0.055","as":"y0"},{"calculate":"datum.r + 0.055","as":"y1"}],
   "mark":{"type":"rule","color":"#000000","strokeWidth":3},
   "encoding":{
    "x":{"field":"md","type":"quantitative","scale":{"domain":[-2.286,4.317],"nice":false,"zero":false},"title":"Sensitivity d'"},
    "y":{"field":"y0","type":"quantitative","scale":{"domain":[0.414,12.661],"nice":false,"zero":false},"title":null},
    "y2":{"field":"y1"}
   }},
  {"transform":[{"filter":"isValid(datum.m)"}],
   "mark":{"type":"rule","color":"#000000","strokeWidth":3},
   "encoding":{
    "x":{"field":"m","type":"quantitative","scale":{"domain":[-2.286,4.317],"nice":false,"zero":false},"title":"Sensitivity d'"}
   }}
 ]
},
"config":{
 "view":{"stroke":null},
 "font":"Liberation Sans",
 "axis":{"grid":false,"domainColor":"#333333","domainWidth":1.4,"tickColor":"#333333","tickWidth":1.4,"tickSize":4,"labelFontSize":22.5,"labelColor":"#4D4D4D","labelFont":"Liberation Sans","titleFont":"Liberation Sans","titleFontSize":22.5,"titleFontWeight":"normal","titleColor":"#000000","labelPadding":3,"titlePadding":1},
 "axisY":{"minExtent":82,"maxExtent":82}
}
}
